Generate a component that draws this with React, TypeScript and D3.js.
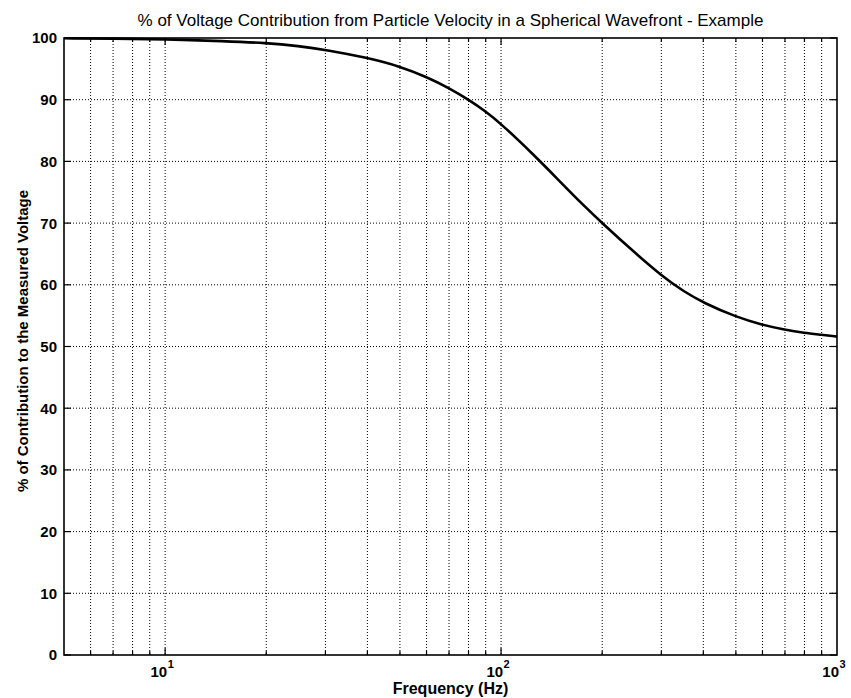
import React from "react";
import * as d3 from "d3";

const frequencies = [5, 7, 10, 15, 20, 25, 30, 40, 50, 60, 70, 80, 90, 100, 125, 150, 175, 200, 250, 300, 350, 400, 500, 600, 700, 800, 900, 1000];
const contribution = [99.95, 99.9, 99.8, 99.5, 99.2, 98.7, 98.1, 96.8, 95.4, 93.7, 91.9, 90.0, 88.1, 86.1, 81.1, 76.7, 73.0, 70.0, 65.2, 61.5, 58.9, 57.1, 54.8, 53.5, 52.7, 52.2, 51.9, 51.6];
const yTicks = [0, 10, 20, 30, 40, 50, 60, 70, 80, 90, 100];
const xMajorTicks = [10, 100, 1000];
const xMajorExponents = ["1", "2", "3"];
const xMinorTicks = [6, 7, 8, 9, 20, 30, 40, 50, 60, 70, 80, 90, 200, 300, 400, 500, 600, 700, 800, 900];

const title = "% of Voltage Contribution from Particle Velocity in a Spherical Wavefront - Example";
const xLabel = "Frequency (Hz)";
const yLabel = "% of Contribution to the Measured Voltage";

export default function App() {
  const W = 851, H = 698;
  const left = 64, right = 837, top = 38, bottom = 655;
  const x = d3.scaleLog().domain([5, 1000]).range([left, right]);
  const y = d3.scaleLinear().domain([0, 100]).range([bottom, top]);
  const pts: [number, number][] = frequencies.map((f, i) => [x(f), y(contribution[i])]);
  const line = d3.line().curve(d3.curveBasis)(pts) || "";
  const font = "'Liberation Sans', Arial, Helvetica, sans-serif";
  const grid = { stroke: "#000", strokeWidth: 1, strokeDasharray: "1,2" };
  const allX = [...xMinorTicks, ...xMajorTicks.slice(0, 2)];
  return (
    <svg width={W} height={H} style={{ position: "absolute", left: 0, top: 0, background: "#fff" }} fontFamily={font}>
      <rect x={0} y={0} width={W} height={H} fill="#fff" />
      {allX.map((t) => (
        <line key={"gx" + t} x1={x(t)} x2={x(t)} y1={top} y2={bottom} {...grid} />
      ))}
      {yTicks.slice(1, -1).map((t) => (
        <line key={"gy" + t} x1={left} x2={right} y1={y(t)} y2={y(t)} {...grid} />
      ))}
      {allX.map((t) => {
        const len = xMajorTicks.includes(t) ? 7 : 4;
        return (
          <g key={"tx" + t}>
            <line x1={x(t)} x2={x(t)} y1={bottom} y2={bottom - len} stroke="#000" strokeWidth={1.2} />
            <line x1={x(t)} x2={x(t)} y1={top} y2={top + len} stroke="#000" strokeWidth={1.2} />
          </g>
        );
      })}
      {yTicks.map((t) => (
        <g key={"ty" + t}>
          <line x1={left} x2={left + 7} y1={y(t)} y2={y(t)} stroke="#000" strokeWidth={1.2} />
          <line x1={right} x2={right - 7} y1={y(t)} y2={y(t)} stroke="#000" strokeWidth={1.2} />
        </g>
      ))}
      <rect x={left} y={top} width={right - left} height={bottom - top} fill="none" stroke="#000" strokeWidth={1.6} />
      <path d={line} fill="none" stroke="#000" strokeWidth={2.6} strokeLinejoin="round" />
      {yTicks.map((t) => (
        <text key={"yl" + t} x={left - 7} y={y(t)} dy="0.36em" textAnchor="end" fontSize={15} fontWeight="bold">
          {t}
        </text>
      ))}
      {xMajorTicks.map((t, i) => (
        <text key={"xl" + t} x={x(t) - 3} y={677} textAnchor="middle" fontSize={15} fontWeight="bold">
          10
          <tspan dx={0.5} dy={-9} fontSize={11}>{xMajorExponents[i]}</tspan>
        </text>
      ))}
      <text x={(left + right) / 2} y={26} textAnchor="middle" fontSize={17}>
        {title}
      </text>
      <text x={(left + right) / 2} y={694} textAnchor="middle" fontSize={16} fontWeight="bold">
        {xLabel}
      </text>
      <text transform={`translate(28, 341) rotate(-90)`} textAnchor="middle" fontSize={15} fontWeight="bold">
        {yLabel}
      </text>
    </svg>
  );
}
